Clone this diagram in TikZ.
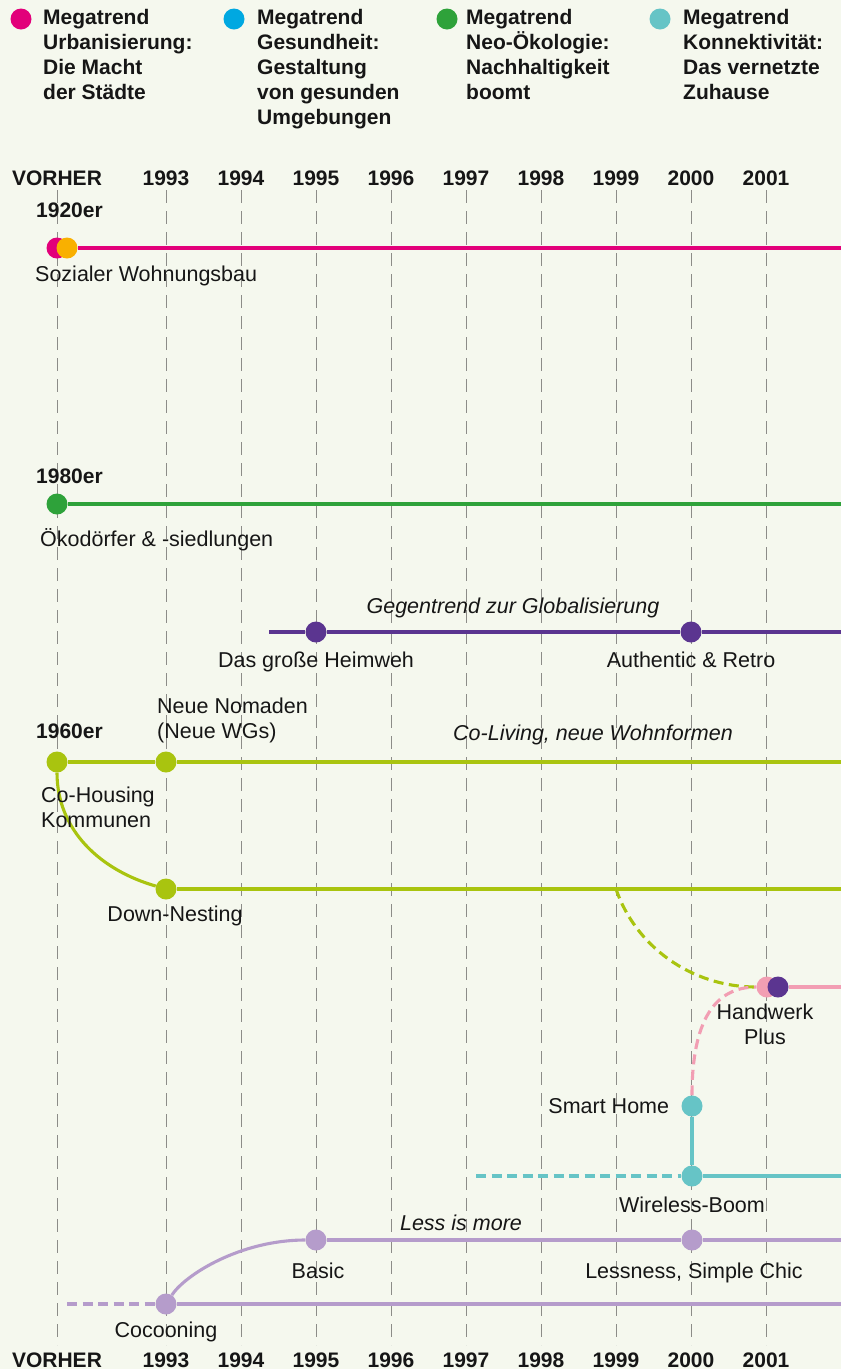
\documentclass[tikz,border=0pt]{standalone}
\usepackage{fontspec}
\setmainfont{Liberation Sans}
\usetikzlibrary{positioning}
\definecolor{paper}{HTML}{F5F8EE}
\definecolor{ink}{HTML}{161616}
\definecolor{gridgrey}{HTML}{8C8C88}
\definecolor{urban}{HTML}{E2007A}
\definecolor{amber}{HTML}{F9B000}
\definecolor{health}{HTML}{00A8E1}
\definecolor{eco}{HTML}{2EA23A}
\definecolor{konnekt}{HTML}{66C4C6}
\definecolor{lime}{HTML}{A9C40F}
\definecolor{heimweh}{HTML}{5B3590}
\definecolor{rosa}{HTML}{F29EB3}
\definecolor{lavendel}{HTML}{B59CCB}
\pgfdeclarelayer{bg}
\pgfsetlayers{bg,main}
\tikzset{
        trenddot/.style = {circle, fill=#1, inner sep=0pt, minimum size=21pt},
        trendline/.style = {draw=#1, line width=3.1pt},
        trenddash/.style = {draw=#1, line width=3.1pt, dash pattern=on 10pt off 5.5pt},
        gridline/.style = {draw=gridgrey, line width=0.9pt, dash pattern=on 13pt off 8pt},
        txt/.style = {inner sep=0pt, text=ink, font=\fontsize{21.5}{25}\selectfont},
        boldtxt/.style = {txt, font=\fontsize{21}{25}\selectfont\bfseries},
        ittxt/.style = {txt, font=\fontsize{21.5}{25}\selectfont\itshape},
        yeartxt/.style = {boldtxt, anchor=base},
    }

\begin{document}
\begin{tikzpicture}[x=1pt, y=-1pt]
    \begin{pgfonlayer}{bg}
        \fill[paper] (0,0) rectangle (841,1369);
    \end{pgfonlayer}
    \useasboundingbox (0,0) rectangle (841,1369);

    \node[trenddot=urban] (legurban) at (21,19) {};
    \node[boldtxt, anchor=base west, align=left] (legurbantxt) at (43,99) {Megatrend\\Urbanisierung:\\Die Macht\\der Städte};
    \node[trenddot=health] (leghealth) at (234,19) {};
    \node[boldtxt, anchor=base west, align=left] (leghealthtxt) at (257,124) {Megatrend\\Gesundheit:\\Gestaltung\\von gesunden\\Umgebungen};
    \node[trenddot=eco] (legeco) at (447,19) {};
    \node[boldtxt, anchor=base west, align=left] (legecotxt) at (466,99) {Megatrend\\Neo-Ökologie:\\Nachhaltigkeit\\boomt};
    \node[trenddot=konnekt] (legkonnekt) at (660,19) {};
    \node[boldtxt, anchor=base west, align=left] (legkonnekttxt) at (683,99) {Megatrend\\Konnektivität:\\Das vernetzte\\Zuhause};

    \foreach \yr/\x in {VORHER/57, 1993/166, 1994/241, 1995/316, 1996/391, 1997/466, 1998/541, 1999/616, 2000/691, 2001/766} {
        \node[yeartxt] (top\yr) at (\x,185) {\yr};
        \node[yeartxt] (bot\yr) at (\x,1367) {\yr};
        \begin{pgfonlayer}{bg}
            \draw[gridline] (\x,190) -- (\x,1345);
        \end{pgfonlayer}
    }

    \node[boldtxt, anchor=base west] (dek20) at (36,217) {1920er};
    \node[trenddot=urban] (sozial) at (57,248) {};
    \node[trenddot=amber] (sozial2) at (67,248) {};
    \coordinate (sozialEnd) at (841,248);
    \node[txt, anchor=base west] (sozialtxt) at (35,281) {Sozialer Wohnungsbau};

    \node[boldtxt, anchor=base west] (dek80) at (36,483) {1980er};
    \node[trenddot=eco] (oeko) at (57,504) {};
    \coordinate (oekoEnd) at (841,504);
    \node[txt, anchor=base west] (oekotxt) at (40,546) {Ökodörfer \& -siedlungen};

    \coordinate (heimStart) at (269,632);
    \node[trenddot=heimweh] (heimweh) at (316,632) {};
    \node[trenddot=heimweh] (retro) at (691,632) {};
    \coordinate (heimEnd) at (841,632);
    \node[ittxt, anchor=base] (globtxt) at (513,613) {Gegentrend zur Globalisierung};
    \node[txt, anchor=base] (heimwehtxt) at (316,667) {Das große Heimweh};
    \node[txt, anchor=base] (retrotxt) at (691,667) {Authentic \& Retro};

    \node[boldtxt, anchor=base west] (dek60) at (36,738) {1960er};
    \node[txt, anchor=base west, align=left] (nomadtxt) at (157,738) {Neue Nomaden\\(Neue WGs)};
    \node[trenddot=lime] (cohousing) at (57,762) {};
    \node[trenddot=lime] (nomaden) at (166,762) {};
    \coordinate (livingEnd) at (841,762);
    \node[ittxt, anchor=base] (livingtxt) at (593,740) {Co-Living, neue Wohnformen};
    \node[txt, anchor=base west, align=left] (cohousingtxt) at (41,827) {Co-Housing\\Kommunen};
    \node[trenddot=lime] (downnest) at (166,889) {};
    \coordinate (nestSplit) at (616,889);
    \coordinate (nestEnd) at (841,889);
    \node[txt, anchor=base] (downnesttxt) at (175,921) {Down-Nesting};

    \node[trenddot=rosa] (handwerk) at (767,987) {};
    \node[trenddot=heimweh] (handwerk2) at (778,987) {};
    \coordinate (handEnd) at (841,987);
    \node[txt, anchor=base, align=center] (handwerktxt) at (765,1044) {Handwerk\\Plus};

    \node[trenddot=konnekt] (smarthome) at (692,1106) {};
    \node[txt, left=12pt of smarthome] (smarthometxt) {Smart Home};
    \node[trenddot=konnekt] (wireless) at (692,1176) {};
    \coordinate (wireStart) at (476,1176);
    \coordinate (wireEnd) at (841,1176);
    \node[txt, anchor=base] (wirelesstxt) at (692,1212) {Wireless-Boom};

    \node[ittxt, anchor=base] (lesstxt) at (461,1230) {Less is more};
    \node[trenddot=lavendel] (basic) at (316,1240) {};
    \node[trenddot=lavendel] (lessness) at (692,1240) {};
    \coordinate (lessEnd) at (841,1240);
    \node[txt, anchor=base] (basictxt) at (318,1278) {Basic};
    \node[txt, anchor=base] (lessnesstxt) at (694,1278) {Lessness, Simple Chic};
    \coordinate (cocoStart) at (67,1304);
    \node[trenddot=lavendel] (cocooning) at (166,1304) {};
    \coordinate (cocoEnd) at (841,1304);
    \node[txt, anchor=base] (cocooningtxt) at (166,1337) {Cocooning};

    \begin{pgfonlayer}{bg}
        \draw[trendline=urban] (sozial2) -- (sozialEnd);
        \draw[trendline=eco] (oeko) -- (oekoEnd);
        \draw[trendline=heimweh] (heimStart) -- (heimweh) -- (retro) -- (heimEnd);
        \draw[trendline=lime] (cohousing) -- (nomaden) -- (livingEnd);
        \draw[trendline=lime] (cohousing) .. controls (57,830) and (100,870) .. (downnest);
        \draw[trendline=lime] (downnest) -- (nestEnd);
        \draw[trenddash=lime] (nestSplit) .. controls (635,945) and (690,987) .. (handwerk);
        \draw[trenddash=rosa] (smarthome) .. controls (692,1020) and (715,987) .. (handwerk);
        \draw[trendline=rosa] (handwerk2) -- (handEnd);
        \draw[trendline=konnekt] (smarthome) -- (wireless) -- (wireEnd);
        \draw[trenddash=konnekt] (wireStart) -- (wireless);
        \draw[trendline=lavendel] (basic) -- (lessness) -- (lessEnd);
        \draw[trendline=lavendel] (cocooning) .. controls (185,1275) and (240,1240) .. (basic);
        \draw[trendline=lavendel] (cocooning) -- (cocoEnd);
        \draw[trenddash=lavendel] (cocoStart) -- (cocooning);
    \end{pgfonlayer}
\end{tikzpicture}
\end{document}
